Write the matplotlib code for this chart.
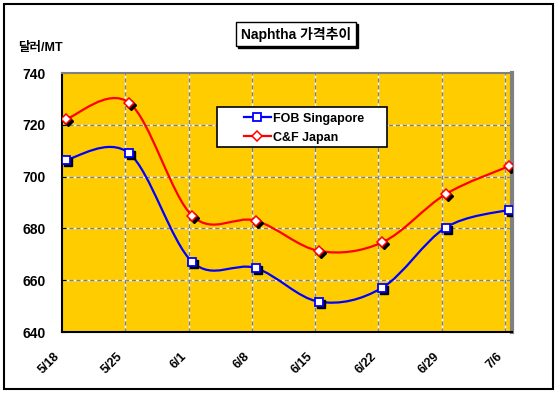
import numpy as np
import matplotlib
matplotlib.use('Agg')
import matplotlib.pyplot as plt
from matplotlib.path import Path
from matplotlib.patches import PathPatch, Rectangle
from matplotlib.lines import Line2D
from matplotlib.transforms import offset_copy

plt.rcParams['font.family'] = ['Liberation Sans', 'Noto Sans CJK KR', 'DejaVu Sans']
plt.rcParams['font.weight'] = 'bold'

# Data (weekly prices, $/MT)
dates = ['5/18', '5/25', '6/1', '6/8', '6/15', '6/22', '6/29', '7/6']
fob_singapore = [706.5, 709.0, 667.0, 664.7, 651.7, 657.1, 680.3, 687.2]
cf_japan = [722.1, 728.5, 684.8, 683.0, 671.3, 674.6, 693.2, 704.0]
y_ticks = [640, 660, 680, 700, 720, 740]

BG = '#FFCC00'
W, H = 559, 393


def smooth_path(x, y):
	"""Excel-like smoothed line as cubic bezier path"""
	pts = np.column_stack([x, y])
	n = len(pts)
	verts = [pts[0]]
	codes = [Path.MOVETO]
	for i in range(n - 1):
		p0 = pts[max(i - 1, 0)]
		p1, p2 = pts[i], pts[i + 1]
		p3 = pts[min(i + 2, n - 1)]
		verts += [p1 + (p2 - p0) / 6, p2 - (p3 - p1) / 6, p2]
		codes += [Path.CURVE4] * 3
	return Path(verts, codes)


def fig_rect(x0, y0, x1, y1, **kw):
	"""Rectangle given in pixels from top-left"""
	return Rectangle((x0 / W, 1 - y1 / H), (x1 - x0) / W, (y1 - y0) / H,
		transform=fig.transFigure, **kw)


fig = plt.figure(figsize=(W / 100, H / 100), dpi=100)
ax = fig.add_axes([62 / W, 1 - 332 / H, 450 / W, 259 / H])
ax.set_facecolor(BG)

x = np.arange(len(dates)) + 0.06
ax.set_xlim(0, 7.11)
ax.set_ylim(640, 740)

# Grid: gray dashes over white
for yv in y_ticks[1:-1]:
	ax.axhline(yv, color='white', lw=1, zorder=1)
	ax.axhline(yv, color='#808080', lw=1, ls=(0, (3, 2)), zorder=1)
for xv in range(1, len(dates)):
	ax.axvline(xv, color='white', lw=1, zorder=1)
	ax.axvline(xv, color='#808080', lw=1, ls=(0, (3, 2)), zorder=1)

# Smoothed lines
for vals, col in [(fob_singapore, '#0000FF'), (cf_japan, '#FF0000')]:
	ax.add_patch(PathPatch(smooth_path(x, vals), fc='none', ec=col, lw=1.6, zorder=3))

# Marker shadows + markers
shadow = offset_copy(ax.transData, fig=fig, x=2, y=-2, units='dots')
ax.plot(x, fob_singapore, ls='none', marker='s', ms=6, mfc='black', mec='black', transform=shadow, zorder=4)
ax.plot(x, cf_japan, ls='none', marker='D', ms=5.5, mfc='black', mec='black', transform=shadow, zorder=4)
ax.plot(x, fob_singapore, ls='none', marker='s', ms=6, mfc='white', mec='#0000FF', mew=1.3, zorder=5)
ax.plot(x, cf_japan, ls='none', marker='D', ms=5.5, mfc='white', mec='#FF0000', mew=1.1, zorder=5)

# Axes styling
ax.set_yticks(y_ticks)
ax.set_xticks(range(len(dates)))
ax.set_xticklabels(dates, rotation=45, ha='right', fontsize=9, fontweight='bold')
ax.tick_params(axis='x', length=0, pad=13)
ax.tick_params(axis='y', direction='in', length=3, pad=12, labelsize=10)
for lab in ax.get_yticklabels():
	lab.set_fontweight('bold')
ax.spines['left'].set_color('black')
ax.spines['left'].set_linewidth(1.5)
ax.spines['bottom'].set_color('black')
ax.spines['bottom'].set_linewidth(1.5)
ax.spines['top'].set_color('#808080')
ax.spines['top'].set_linewidth(1.5)
ax.spines['right'].set_color('#808080')
ax.spines['right'].set_linewidth(3)

# Legend (frame drawn separately to get Excel-like padding)
handles = [
	Line2D([], [], color='#0000FF', lw=1.6, marker='s', ms=6, mfc='white', mec='#0000FF', mew=1.3),
	Line2D([], [], color='#FF0000', lw=1.6, marker='D', ms=5.5, mfc='white', mec='#FF0000', mew=1.1),
]
fig.patches.append(fig_rect(217, 107, 387, 147, fc='white', ec='black', lw=1.2, zorder=2))
leg = fig.legend(handles, ['FOB Singapore', 'C&F Japan'], loc='upper left',
	bbox_to_anchor=(238 / W, 1 - 107 / H), frameon=False,
	prop={'size': 9, 'weight': 'bold'}, handlelength=2.2,
	handletextpad=0.15, borderpad=0.45, labelspacing=0.55, borderaxespad=0)
leg.set_zorder(3)

# Title with shadow box
title = 'Naphtha 가격추이'
t = fig.text(296 / W, 1 - 34 / H, title, ha='center', va='center', fontsize=10, fontweight='bold',
	bbox=dict(boxstyle='square,pad=0.35', fc='white', ec='black', lw=1), zorder=4)
fig.canvas.draw()
bb = t.get_bbox_patch().get_window_extent()
fig.patches.append(Rectangle(((bb.x0 + 2) / W, (bb.y0 - 2) / H), bb.width / W, bb.height / H,
	transform=fig.transFigure, fc='black', ec='black', lw=1, zorder=3))

fig.text(18 / W, 1 - 48 / H, '달러/MT', ha='left', va='center', fontsize=9, fontweight='bold')

# Outer chart border
fig.patches.append(fig_rect(4, 4, 553, 389, fill=False, ec='black', lw=1.5))

fig.savefig('out.png', dpi=100)
